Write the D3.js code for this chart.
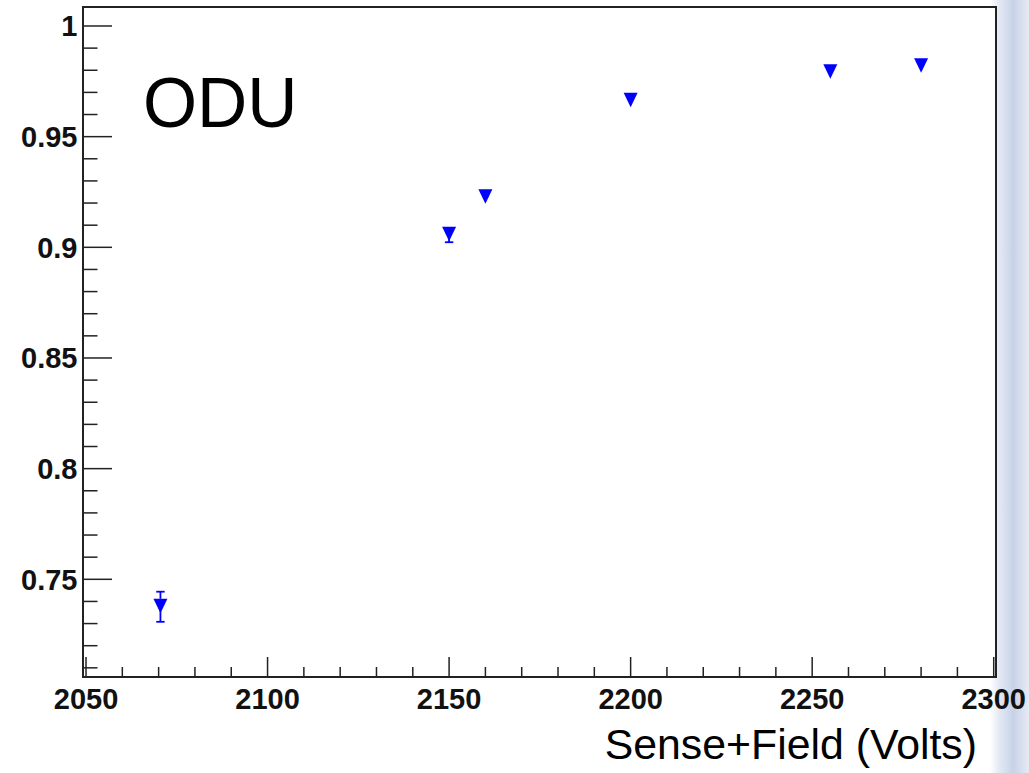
<!DOCTYPE html>
<html>
<head>
<meta charset="utf-8">
<script src="https://cdn.jsdelivr.net/npm/d3@7"></script>
<style>
  html, body { margin: 0; padding: 0; background: #ffffff; }
  svg { display: block; }
</style>
</head>
<body>
<svg id="chart" width="1029" height="773"></svg>
<script>
// ---- data ----
const voltages = [2070.5, 2150, 2160, 2200, 2255, 2280];
const efficiency = [0.7376, 0.9057, 0.9226, 0.9662, 0.9791, 0.9818];
const errors = [0.0068, 0.0034, 0.0015, 0.0012, 0.0010, 0.0010];
const xTickLabels = [2050, 2100, 2150, 2200, 2250, 2300];
const yTickLabels = [0.75, 0.8, 0.85, 0.9, 0.95, 1];
const title = "ODU";
const xTitle = "Sense+Field (Volts)";

// ---- layout ----
const svg = d3.select("#chart");
const L = 83, R = 996, T = 7, B = 677;

// background decoration on right edge (slide background)
const defs = svg.append("defs");
const g1 = defs.append("linearGradient").attr("id", "edge").attr("x1", "0").attr("x2", "1").attr("y1", "0").attr("y2", "0");
g1.append("stop").attr("offset", "0%").attr("stop-color", "#ffffff");
g1.append("stop").attr("offset", "25%").attr("stop-color", "#e2e8f3");
g1.append("stop").attr("offset", "60%").attr("stop-color", "#c8d2e8");
g1.append("stop").attr("offset", "100%").attr("stop-color", "#e6eaf3");
svg.append("rect").attr("x", 990).attr("y", 0).attr("width", 39).attr("height", 773).attr("fill", "url(#edge)");
svg.append("rect").attr("x", L).attr("y", T).attr("width", R - L).attr("height", B - T).attr("fill", "#ffffff");

const x = d3.scaleLinear().domain([2049.17, 2300.63]).range([L, R]);
const y = d3.scaleLinear().domain([0.70586, 1.00858]).range([B, T]);

const axisColor = "#222";
const font = "Liberation Sans, Arial, Helvetica, sans-serif";

// y ticks
const yMinor = d3.range(71, 101).map(d => d / 100);
svg.append("g").selectAll("line").data(yMinor).join("line")
  .attr("x1", L).attr("x2", d => (Math.round(d * 100) % 5 === 0) ? L + 29 : L + 14.5)
  .attr("y1", d => y(d)).attr("y2", d => y(d))
  .attr("stroke", axisColor).attr("stroke-width", 1.5);
svg.append("g").selectAll("text").data(yTickLabels).join("text")
  .attr("x", 77.5).attr("y", d => y(d) + 10.5)
  .attr("text-anchor", "end")
  .attr("font-family", font)
  .attr("font-weight", "bold").attr("font-size", 29)
  .attr("fill", "#111")
  .text(d => d3.format("")(d));

// x ticks
const xMinor = d3.range(2050, 2301, 10);
svg.append("g").selectAll("line").data(xMinor).join("line")
  .attr("x1", d => x(d)).attr("x2", d => x(d))
  .attr("y1", B).attr("y2", d => (d % 50 === 0) ? B - 20 : B - 10)
  .attr("stroke", axisColor).attr("stroke-width", 1.5);
svg.append("g").selectAll("text").data(xTickLabels).join("text")
  .attr("x", d => x(d)).attr("y", 709)
  .attr("text-anchor", "middle")
  .attr("font-family", font)
  .attr("font-weight", "bold").attr("font-size", 29)
  .attr("fill", "#111")
  .text(d => d);

// frame
svg.append("rect").attr("x", L).attr("y", T).attr("width", R - L).attr("height", B - T)
  .attr("fill", "none").attr("stroke", axisColor).attr("stroke-width", 2);

// data
const pts = voltages.map((v, i) => ({ v, e: efficiency[i], err: errors[i] }));
const blue = "#0000ff";
const mTop = 8, mBot = 6.5, mHalf = 7;
const eb = svg.append("g");
// error bars drawn only outside the marker, as ROOT does
pts.forEach(d => {
  const cx = x(d.v), cy = y(d.e);
  const yHi = y(d.e + d.err), yLo = y(d.e - d.err);
  if (yHi < cy - mTop) {
    eb.append("line").attr("x1", cx).attr("x2", cx).attr("y1", yHi).attr("y2", cy - mTop)
      .attr("stroke", blue).attr("stroke-width", 1.8);
    eb.append("line").attr("x1", cx - 4.2).attr("x2", cx + 4.2).attr("y1", yHi).attr("y2", yHi)
      .attr("stroke", blue).attr("stroke-width", 1.8);
  }
  if (yLo > cy + mBot) {
    eb.append("line").attr("x1", cx).attr("x2", cx).attr("y1", cy).attr("y2", yLo)
      .attr("stroke", blue).attr("stroke-width", 1.8);
    eb.append("line").attr("x1", cx - 4.2).attr("x2", cx + 4.2).attr("y1", yLo).attr("y2", yLo)
      .attr("stroke", blue).attr("stroke-width", 1.8);
  }
});

svg.append("g").selectAll("path").data(pts).join("path")
  .attr("d", d => {
    const cx = x(d.v), cy = y(d.e);
    return `M${cx - mHalf},${cy - mTop}L${cx + mHalf},${cy - mTop}L${cx},${cy + mBot}Z`;
  })
  .attr("fill", blue);

// texts
svg.append("text").attr("x", 143).attr("y", 127)
  .attr("font-family", font)
  .attr("font-size", 69.5).attr("fill", "#000")
  .text(title);
svg.append("text").attr("x", 977).attr("y", 759)
  .attr("text-anchor", "end")
  .attr("font-family", font)
  .attr("font-size", 42.8).attr("fill", "#000")
  .text(xTitle);
</script>
</body>
</html>
